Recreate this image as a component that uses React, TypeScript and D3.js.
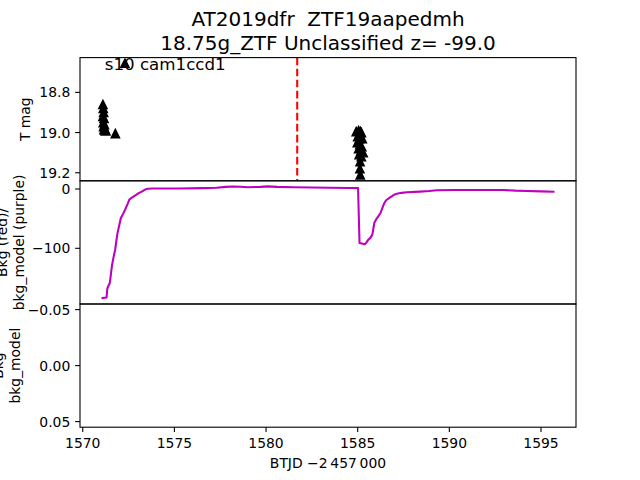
import React from "react";
import * as d3 from "d3";

// ---- data ----
const magTimes = [
  1571.10, 1571.12, 1571.14, 1571.10, 1571.16, 1571.12, 1571.18, 1571.14, 1571.20, 1571.22, 1571.16, 1571.26,
  1571.78, 1572.30,
  1584.92, 1585.05, 1585.15, 1585.20, 1585.00, 1585.10, 1585.25, 1584.98, 1585.12, 1585.22, 1585.05, 1585.18,
  1585.30, 1585.08, 1585.20, 1585.13, 1585.12, 1585.14,
];
const magValues = [
  18.86, 18.88, 18.90, 18.92, 18.93, 18.95, 18.96, 18.97, 18.98, 18.99, 18.985, 18.99,
  19.005, 18.655,
  18.995, 18.99, 18.995, 19.0, 19.02, 19.03, 19.03, 19.05, 19.06, 19.07, 19.08, 19.09,
  19.10, 19.11, 19.12, 19.145, 19.18, 19.21,
];

const bkgTimes = [
  1571.08, 1571.30, 1571.33, 1571.36, 1571.48, 1571.55, 1571.60, 1571.70, 1571.77, 1571.84, 1571.90, 1572.00,
  1572.08, 1572.20, 1572.31, 1572.45, 1572.54, 1572.70, 1572.85, 1573.05, 1573.22, 1573.40, 1573.55, 1573.80,
  1575.30, 1576.50, 1577.30, 1577.80, 1578.20, 1578.60, 1579.00, 1579.70, 1580.10, 1580.60, 1581.50, 1582.50,
  1583.50, 1584.50, 1585.02, 1585.10, 1585.40, 1585.48, 1585.58, 1585.70, 1585.80, 1585.88, 1585.91, 1586.05,
  1586.13, 1586.25, 1586.31, 1586.45, 1586.55, 1586.77, 1587.00, 1587.13, 1587.40, 1587.68, 1588.40, 1588.90,
  1589.31, 1590.30, 1591.31, 1592.95, 1593.60, 1594.22, 1595.00, 1595.68,
];
const bkgModelValues = [
  -184, -183, -170, -166, -158, -140, -128, -112, -102, -86, -74, -60,
  -49, -42, -35, -25, -18, -14, -11, -7, -4.5, -1, 0.3, 0.8,
  0.8, 1.5, 2.0, 3.5, 4.2, 3.8, 3.0, 3.5, 4.4, 3.5, 2.8, 2.5,
  2.0, 1.8, 1.7, -91, -93, -90, -85.5, -82, -77, -62, -57, -49,
  -46, -40, -35, -24, -19, -14, -9.5, -8, -6.5, -5.6, -4.5, -3.5,
  -2.2, -1.8, -1.7, -1.7, -2.8, -3.4, -4.0, -4.5,
];

const discoveryTime = 1581.70;
const xTicks = [1570, 1575, 1580, 1585, 1590, 1595];
const magTicks = [18.8, 19.0, 19.2];
const bkgTicks = [0, -100];
const ratioTicks = [-0.05, 0.0, 0.05];
const titleLines = ["AT2019dfr  ZTF19aapedmh", "18.75g_ZTF Unclassified z= -99.0"];
const sectorLabel = "s10 cam1ccd1";
const xLabel = "BTJD \u22122\u2009457\u2009000";

// ---- layout ----
const W = 640, H = 480;
const L = 80, R = 576;
const T0 = 57.6, T1 = 180.8, T2 = 304, T3 = 427.2;
const FONT = "DejaVu Sans, sans-serif";
const fs = 13.9;
const tickLen = 4.86;
const tickPad = 4.86;

const fmtMinus = (s: string) => s.replace("-", "\u2212");

export default function App() {
  const x = d3.scaleLinear().domain([1569.85, 1596.91]).range([L, R]);
  const yMag = d3.scaleLinear().domain([18.627, 19.24]).range([T0, T1]);
  const yBkg = d3.scaleLinear().domain([13.8, -193.9]).range([T1, T2]);
  const yRatio = d3.scaleLinear().domain([-0.055, 0.055]).range([T2, T3]);

  const line = d3
    .line<number>()
    .x((_, i) => x(bkgTimes[i]))
    .y((d) => yBkg(d));
  const bkgPath = line(bkgModelValues) || "";

  const tri = (cx: number, cy: number) => {
    const s = 4.17;
    return `M${cx},${cy - s}L${cx - s},${cy + s}L${cx + s},${cy + s}Z`;
  };

  const yTicksFor = (ticks: number[], scale: any, fmt: (v: number) => string, key: string) =>
    ticks.map((t) => (
      <g key={key + t}>
        <line x1={L - tickLen} x2={L} y1={scale(t)} y2={scale(t)} stroke="black" strokeWidth={1.1} />
        <text
          x={L - tickLen - tickPad}
          y={scale(t)}
          textAnchor="end"
          dominantBaseline="central"
          fontSize={fs}
          fontFamily={FONT}
        >
          {fmtMinus(fmt(t))}
        </text>
      </g>
    ));

  return (
    <svg
      width={W}
      height={H}
      style={{ position: "absolute", left: 0, top: 0, background: "white" }}
      fontFamily={FONT}
    >
      <rect x={0} y={0} width={W} height={H} fill="white" />
      <defs>
        <clipPath id="cTop">
          <rect x={L} y={T0} width={R - L} height={T1 - T0} />
        </clipPath>
        <clipPath id="cMid">
          <rect x={L} y={T1} width={R - L} height={T2 - T1} />
        </clipPath>
      </defs>

      {/* title */}
      <text x={(L + R) / 2} y={26} textAnchor="middle" fontSize={20} style={{ whiteSpace: "pre" }}>
        {titleLines[0]}
      </text>
      <text x={(L + R) / 2} y={49.5} textAnchor="middle" fontSize={20} style={{ whiteSpace: "pre" }}>
        {titleLines[1]}
      </text>

      {/* top panel */}
      <g clipPath="url(#cTop)">
        <line
          x1={x(discoveryTime)}
          x2={x(discoveryTime)}
          y1={T0}
          y2={T1}
          stroke="#ff0000"
          strokeWidth={2.08}
          strokeDasharray="7.7,3.33"
        />
        {magValues.map((m, i) => (
          <path
            key={"m" + i}
            d={tri(x(magTimes[i]), yMag(m))}
            fill="black"
            stroke="black"
            strokeWidth={1.39}
            strokeLinejoin="miter"
          />
        ))}
      </g>
      <text x={L + 0.05 * (R - L)} y={T0 + 0.1 * (T1 - T0)} fontSize={16.67}>
        {sectorLabel}
      </text>
      {yTicksFor(magTicks, yMag, (v) => v.toFixed(1), "mt")}

      {/* middle panel */}
      <g clipPath="url(#cMid)">
        <path d={bkgPath} fill="none" stroke="#bf00bf" strokeWidth={2.08} strokeLinejoin="round" strokeLinecap="square" />
      </g>
      {yTicksFor(bkgTicks, yBkg, (v) => String(v), "bt")}

      {/* bottom panel */}
      {yTicksFor(ratioTicks, yRatio, (v) => v.toFixed(2), "rt")}

      {/* x ticks */}
      {xTicks.map((t) => (
        <g key={"x" + t}>
          <line x1={x(t)} x2={x(t)} y1={T3} y2={T3 + tickLen} stroke="black" strokeWidth={1.1} />
          <text x={x(t)} y={T3 + tickLen + tickPad + 10.6} textAnchor="middle" fontSize={fs}>
            {t}
          </text>
        </g>
      ))}
      <text x={(L + R) / 2} y={468} textAnchor="middle" fontSize={fs}>
        {xLabel}
      </text>

      {/* y labels */}
      <text transform={`translate(30,${(T0 + T1) / 2}) rotate(-90)`} textAnchor="middle" fontSize={fs}>
        T mag
      </text>
      <text transform={`translate(7,${(T1 + T2) / 2}) rotate(-90)`} textAnchor="middle" fontSize={fs}>
        Bkg (red)/
      </text>
      <text transform={`translate(23.5,${(T1 + T2) / 2}) rotate(-90)`} textAnchor="middle" fontSize={fs}>
        bkg_model (purple)
      </text>
      <text transform={`translate(3,${(T2 + T3) / 2}) rotate(-90)`} textAnchor="middle" fontSize={fs}>
        Bkg
      </text>
      <text transform={`translate(19.8,${(T2 + T3) / 2}) rotate(-90)`} textAnchor="middle" fontSize={fs}>
        bkg_model
      </text>

      {/* panel frames */}
      {[
        [T0, T1],
        [T1, T2],
        [T2, T3],
      ].map(([a, b], i) => (
        <rect key={"f" + i} x={L} y={a} width={R - L} height={b - a} fill="none" stroke="black" strokeWidth={1.1} />
      ))}
    </svg>
  );
}
